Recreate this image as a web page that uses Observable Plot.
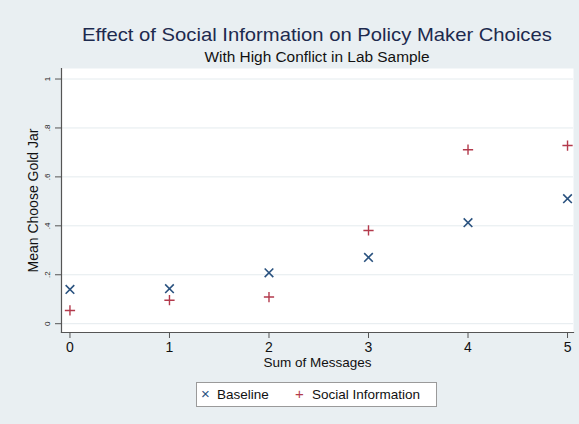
<!DOCTYPE html>
<html>
<head>
<meta charset="utf-8">
<script src="https://cdn.jsdelivr.net/npm/d3@7"></script>
<script src="https://cdn.jsdelivr.net/npm/@observablehq/plot@0.6"></script>
<style>
  html, body { margin: 0; padding: 0; background: #e9eff2; }
  #wrap { position: relative; width: 579px; height: 424px; background: #e9eff2; font-family: "Liberation Sans", Arial, sans-serif; overflow: hidden; }
  #wrap svg { position: absolute; left: 0; top: 0; }
  .title { position: absolute; left: 61px; width: 512px; text-align: center; white-space: nowrap; line-height: 1; }
  #t1 { top: 25px; font-size: 19px; transform: scaleX(1.065); color: #1d2a4e; }
  #t2 { top: 50px; font-size: 14px; transform: scaleX(1.1); color: #111; }
  #legend { position: absolute; left: 196px; top: 382px; width: 241px; height: 25px; box-sizing: border-box;
            background: #fff; border: 1px solid #9a9a9a; font-size: 13.5px; color: #111; }
  #legend span { position: absolute; top: 4px; }
</style>
</head>
<body>
<div id="wrap">
  <div class="title" id="t1">Effect of Social Information on Policy Maker Choices</div>
  <div class="title" id="t2">With High Conflict in Lab Sample</div>
</div>
<script>
// Mean share choosing the gold jar, by number of messages received
const messages = [0, 1, 2, 3, 4, 5];
const baseline = [0.140, 0.143, 0.208, 0.271, 0.413, 0.511];
const socialInfo = [0.054, 0.096, 0.109, 0.381, 0.711, 0.728];
const seriesNames = ["Baseline", "Social Information"];
const yTicks = [0, 0.2, 0.4, 0.6, 0.8, 1];
const yTickLabels = ["0", ".2", ".4", ".6", ".8", "1"];
const xTicks = [0, 1, 2, 3, 4, 5];

const colors = {"Baseline": "#2a527f", "Social Information": "#b33a4c"};

const baseRows = messages.map((m, i) => ({x: m, y: baseline[i]}));
const socialRows = messages.map((m, i) => ({x: m, y: socialInfo[i]}));
const tickRows = yTicks.map((v, i) => ({v, label: yTickLabels[i]}));

const chart = Plot.plot({
  width: 579,
  height: 424,
  marginLeft: 61,
  marginRight: 6,
  marginTop: 68,
  marginBottom: 92,
  style: {background: "transparent", fontFamily: "Liberation Sans, Arial, sans-serif", color: "#111"},
  x: {domain: [-0.085, 5.06]},
  y: {domain: [-0.036, 1.043]},
  marks: [
    Plot.frame({fill: "white", stroke: "none"}),
    Plot.ruleY(yTicks, {stroke: "#e4ebee", strokeWidth: 1}),
    // axis lines
    Plot.frame({anchor: "left", stroke: "#555", strokeWidth: 1.2}),
    Plot.frame({anchor: "bottom", stroke: "#555", strokeWidth: 1.2}),
    // y axis: ticks and rotated labels
    Plot.axisY({ticks: yTicks, tickSize: 6, tickFormat: () => "", stroke: "#555", label: null}),
    Plot.text(tickRows, {y: "v", text: "label", frameAnchor: "left", textAnchor: "middle", dx: -14, rotate: -90, fontSize: 8, fill: "#222"}),
    Plot.text(["Mean Choose Gold Jar"], {frameAnchor: "left", textAnchor: "middle", dx: -28, rotate: -90, fontSize: 14, fill: "#111"}),
    // x axis
    Plot.axisX({ticks: xTicks, tickFormat: d3.format("d"), tickSize: 6, tickPadding: 4, fontSize: 14, stroke: "#555", label: null}),
    Plot.text(["Sum of Messages"], {frameAnchor: "bottom", dy: 34, fontSize: 13.5, fill: "#111"}),
    // data
    Plot.dot(baseRows, {x: "x", y: "y", symbol: "times", stroke: colors["Baseline"], r: 4, strokeWidth: 1.6}),
    Plot.dot(socialRows, {x: "x", y: "y", symbol: "plus", stroke: colors["Social Information"], r: 3.4, strokeWidth: 1.4})
  ]
});

document.getElementById("wrap").appendChild(chart);

// legend
const legend = document.createElement("div");
legend.id = "legend";
const entries = [
  {name: seriesNames[0], sym: "\u00d7", left: 4, textLeft: 20},
  {name: seriesNames[1], sym: "+", left: 98, textLeft: 115}
];
for (const e of entries) {
  const s = document.createElement("span");
  s.textContent = e.sym;
  s.style.left = e.left + "px";
  s.style.color = colors[e.name];
  s.style.fontSize = "15px";
  s.style.top = "2px";
  legend.appendChild(s);
  const t = document.createElement("span");
  t.textContent = e.name;
  t.style.left = e.textLeft + "px";
  legend.appendChild(t);
}
document.getElementById("wrap").appendChild(legend);
</script>
</body>
</html>
